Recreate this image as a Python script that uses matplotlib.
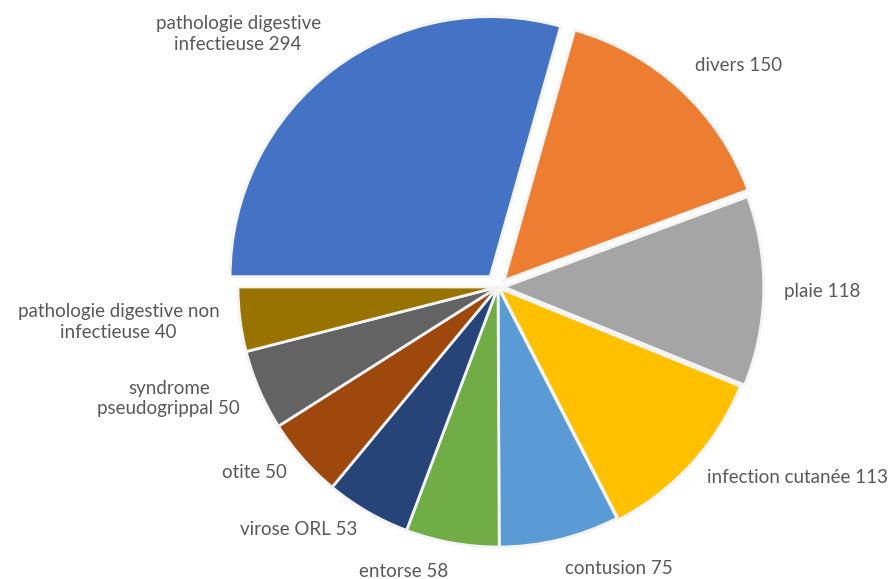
import numpy as np
import matplotlib
matplotlib.use("Agg")
import matplotlib.pyplot as plt

# Data
labels = ["pathologie digestive\ninfectieuse", "divers", "plaie", "infection cutanée",
          "contusion", "entorse", "virose ORL", "otite", "syndrome\npseudogrippal",
          "pathologie digestive non\ninfectieuse"]
values = [294, 150, 118, 113, 75, 58, 53, 50, 50, 40]
colors = ["#4472C4", "#ED7D31", "#A5A5A5", "#FFC000", "#5B9BD5",
          "#70AD47", "#264478", "#9E480E", "#636363", "#997300"]
explode = [0.05, 0.035, 0.022, 0.008, 0, 0, 0, 0, 0, 0]   # fraction of radius

W, H = 893, 579
cx, cy, R = 498, H - 287, 260   # pie centre and radius in pixels

fig = plt.figure(figsize=(W / 100, H / 100), dpi=100)
ax = fig.add_axes([0, 0, 1, 1])

# matplotlib's explode is in data units, so scale it by the radius
wedges, _ = ax.pie(values, colors=colors, explode=[e * R for e in explode],
                   startangle=180, counterclock=False, center=(cx, cy), radius=R,
                   wedgeprops=dict(edgecolor="#F4F4F4", linewidth=2))
ax.set_xlim(0, W)
ax.set_ylim(0, H)
ax.set_aspect("equal")
ax.axis("off")

# labels outside the slices, Excel-like "outside end"
for w, lab, v, ex in zip(wedges, labels, values, explode):
    mid = np.deg2rad((w.theta1 + w.theta2) / 2)
    c, s = np.cos(mid), np.sin(mid)
    r = R * (1.08 + ex)
    x, y = cx + r * c, cy + r * s
    ha = "left" if c > 0 else "right"
    if s > 0.5:
        va = "bottom"
    elif s < -0.9:
        va = "top"
    else:
        va = "center"
    ax.text(x, y, f"{lab} {v}", ha=ha, va=va, multialignment="center",
            fontsize=13.5, color="#595959", family="Lato", linespacing=1.25)

fig.savefig("out.png", dpi=100)
